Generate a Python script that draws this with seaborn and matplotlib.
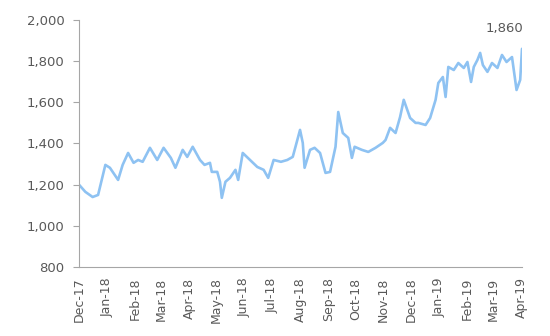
import matplotlib
matplotlib.use("Agg")
import matplotlib.pyplot as plt
import matplotlib.dates as mdates
import matplotlib.ticker as mticker
import pandas as pd
import seaborn as sns

dates = [
    "2017-12-01", "2017-12-08", "2017-12-16", "2017-12-22", "2017-12-30",
    "2018-01-04", "2018-01-13", "2018-01-18", "2018-01-24", "2018-01-30",
    "2018-02-04", "2018-02-09", "2018-02-17", "2018-02-25", "2018-03-04",
    "2018-03-12", "2018-03-17", "2018-03-25", "2018-03-30", "2018-04-05",
    "2018-04-13", "2018-04-18", "2018-04-24", "2018-04-26", "2018-05-02",
    "2018-05-05", "2018-05-07", "2018-05-11", "2018-05-16", "2018-05-22",
    "2018-05-25", "2018-05-30", "2018-06-07", "2018-06-15", "2018-06-22",
    "2018-06-27", "2018-07-03", "2018-07-11", "2018-07-18", "2018-07-24",
    "2018-07-27", "2018-08-01", "2018-08-04", "2018-08-06", "2018-08-12",
    "2018-08-17", "2018-08-23", "2018-08-29", "2018-09-03", "2018-09-09",
    "2018-09-12", "2018-09-17", "2018-09-23", "2018-09-27", "2018-09-30",
    "2018-10-08", "2018-10-15", "2018-10-23", "2018-10-31", "2018-11-03",
    "2018-11-08", "2018-11-14", "2018-11-19", "2018-11-23", "2018-11-30",
    "2018-12-06", "2018-12-09", "2018-12-17", "2018-12-22", "2018-12-28",
    "2018-12-31", "2019-01-05", "2019-01-08", "2019-01-11", "2019-01-17",
    "2019-01-22", "2019-01-28", "2019-02-01", "2019-02-05", "2019-02-08",
    "2019-02-12", "2019-02-15", "2019-02-18", "2019-02-23", "2019-02-28",
    "2019-03-06", "2019-03-11", "2019-03-16", "2019-03-22", "2019-03-27",
    "2019-03-31", "2019-04-02",
]
values = [
    1200, 1165, 1140, 1150, 1296,
    1282, 1223, 1296, 1354, 1306,
    1320, 1311, 1379, 1320, 1379,
    1330, 1282, 1369, 1335, 1384,
    1320, 1296, 1306, 1262, 1262,
    1214, 1136, 1214, 1233, 1272,
    1223, 1354, 1320, 1286, 1272,
    1233, 1320, 1311, 1320, 1335,
    1384, 1466, 1403, 1282, 1369,
    1379, 1354, 1257, 1262, 1384,
    1553, 1451, 1427, 1330, 1384,
    1369, 1359, 1379, 1403, 1417,
    1476, 1451, 1529, 1612, 1524,
    1500, 1500, 1490, 1524, 1612,
    1694, 1723, 1626, 1772, 1757,
    1791, 1767, 1796, 1699, 1772,
    1806, 1840, 1781, 1748, 1791,
    1767, 1830, 1796, 1820, 1660,
    1709, 1860,
]
y_ticks = [800, 1000, 1200, 1400, 1600, 1800, 2000]
last_label = "1,860"

df = pd.DataFrame({"date": pd.to_datetime(dates), "value": values})

sns.set_style("white")
plt.rcParams["font.family"] = ["DejaVu Sans"]

fig = plt.figure(figsize=(5.5, 3.36), dpi=100)
ax = fig.add_axes([0.1436, 0.2054, 0.8055, 0.7351])

sns.lineplot(data=df, x="date", y="value", ax=ax, color="#8EC2F2", linewidth=1.9)

ax.set_xlim(df["date"].iloc[0], df["date"].iloc[-1])
ax.set_ylim(y_ticks[0], y_ticks[-1])
ax.set_yticks(y_ticks)
ax.yaxis.set_major_formatter(mticker.FuncFormatter(lambda v, p: f"{int(v):,}"))

months = pd.date_range("2017-12-01", "2019-04-01", freq="MS")
ax.set_xticks(months)
ax.xaxis.set_major_formatter(mdates.DateFormatter("%b-%y"))
for lbl in ax.get_xticklabels():
    lbl.set_rotation(90)

ax.set_xlabel("")
ax.set_ylabel("")
for s in ["top", "right"]:
    ax.spines[s].set_visible(False)
for s in ["left", "bottom"]:
    ax.spines[s].set_color("#A6A6A6")
    ax.spines[s].set_linewidth(0.8)

ax.tick_params(axis="y", length=4.5, width=0.8, color="#A6A6A6", pad=6,
               labelsize=9.5, labelcolor="#595959", left=True)
ax.tick_params(axis="x", length=0, pad=7.5, labelsize=9, labelcolor="#595959")

ax.annotate(last_label, xy=(df["date"].iloc[-1], df["value"].iloc[-1]),
            xytext=(-13, 10), textcoords="offset points", ha="center",
            va="bottom", fontsize=9.5, color="#595959")

fig.savefig("out.png", dpi=100)
